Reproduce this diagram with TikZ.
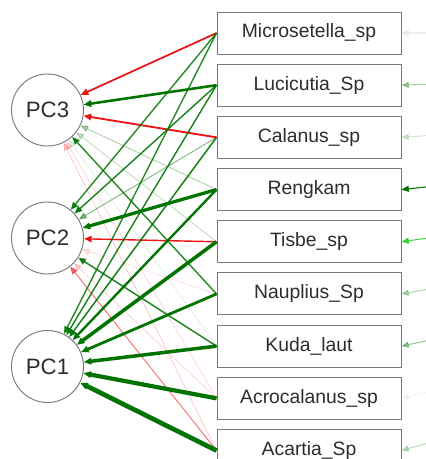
\documentclass[tikz,border=0pt]{standalone}
\usepackage{fontspec}
\setmainfont{Liberation Sans}
\usepackage{tikz}
\usetikzlibrary{positioning,arrows.meta}
\definecolor{pcaGreen}{RGB}{0,115,0}
\definecolor{pcaRed}{RGB}{235,20,20}
\definecolor{pcaGray}{RGB}{120,120,120}
\definecolor{pcaText}{RGB}{45,45,45}

\begin{document}
\begin{tikzpicture}[x=0.03cm,y=-0.03cm,
      node distance=2.775mm,
      sp/.style={draw=pcaGray,line width=0.8pt,fill=white,minimum width=5.52cm,minimum height=1.26cm,text=pcaText,font=\fontsize{16.5}{19}\selectfont},
      pc/.style={draw=pcaGray,line width=0.8pt,circle,minimum size=2.16cm,inner sep=0pt,text=pcaText,font=\fontsize{19}{22}\selectfont},
      posload/.style={-{Triangle[length=2.3mm,width=1.9mm]},draw=pcaGreen,line width=1.2pt},
      negload/.style={-{Triangle[length=2.3mm,width=1.9mm]},draw=pcaRed,line width=1.2pt},
      res/.style={-{Triangle[length=2.2mm,width=1.8mm]},draw=pcaGreen,line width=0.9pt}]
    \useasboundingbox (0,0) rectangle (425,459);
    \node[pc] (pc3) at (47.5,110) {PC3};
    \node[pc] (pc2) at (47.5,238) {PC2};
    \node[pc] (pc1) at (47.5,366.5) {PC1};
    \node[sp] (mic) at (309,33) {Microsetella\_sp};
    \node[sp,below=of mic] (luc) {Lucicutia\_Sp};
    \node[sp,below=of luc] (cal) {Calanus\_sp};
    \node[sp,below=of cal] (ren) {Rengkam};
    \node[sp,below=of ren] (tis) {Tisbe\_sp};
    \node[sp,below=of tis] (nau) {Nauplius\_Sp};
    \node[sp,below=of nau] (kud) {Kuda\_laut};
    \node[sp,below=of kud] (acr) {Acrocalanus\_sp};
    \node[sp,below=of acr] (aca) {Acartia\_Sp};
    % faint loadings first
    \draw[posload,opacity=0.35,line width=0.7pt] (ren.west) -- (pc3);
    \draw[posload,opacity=0.25,line width=0.7pt] (tis.west) -- (pc3);
    \draw[posload,opacity=0.12,line width=0.6pt] (kud.west) -- (pc3);
    \draw[negload,opacity=0.18,line width=0.6pt] (acr.west) -- (pc3);
    \draw[negload,opacity=0.25,line width=0.6pt] (aca.west) -- (pc3);
    \draw[posload,opacity=0.5,line width=0.8pt] (cal.west) -- (pc2);
    \draw[negload,opacity=0.15,line width=0.6pt] (nau.west) -- (pc2);
    \draw[negload,opacity=0.2,line width=0.6pt] (acr.west) -- (pc2);
    \draw[negload,opacity=0.6,line width=0.8pt] (aca.west) -- (pc2);
    % PC3
    \draw[negload,line width=1.5pt] (mic.west) -- (pc3);
    \draw[posload,line width=2.2pt] (luc.west) -- (pc3);
    \draw[negload,line width=1.6pt] (cal.west) -- (pc3);
    \draw[posload,opacity=0.85,line width=1.2pt] (nau.west) -- (pc3);
    % PC2
    \draw[posload,opacity=0.85] (mic.west) -- (pc2);
    \draw[posload,opacity=0.9] (luc.west) -- (pc2);
    \draw[posload,line width=2.8pt] (ren.west) -- (pc2);
    \draw[negload,line width=1.2pt] (tis.west) -- (pc2);
    \draw[posload,opacity=0.85,line width=1.3pt] (kud.west) -- (pc2);
    % PC1
    \draw[posload,opacity=0.85] (mic.west) -- (pc1);
    \draw[posload,opacity=0.9] (luc.west) -- (pc1);
    \draw[posload,opacity=0.9,line width=1.3pt] (cal.west) -- (pc1);
    \draw[posload,line width=2pt] (ren.west) -- (pc1);
    \draw[posload,line width=3pt] (tis.west) -- (pc1);
    \draw[posload,line width=2.4pt] (nau.west) -- (pc1);
    \draw[posload,line width=3pt] (kud.west) -- (pc1);
    \draw[posload,line width=3.6pt] (acr.west) -- (pc1);
    \draw[posload,line width=4pt] (aca.west) -- (pc1);
    % residuals
    \coordinate (micR) at (428,33);
    \coordinate (lucR) at (428,84.25);
    \coordinate (calR) at (428,135.5);
    \coordinate (renR) at (428,186.75);
    \coordinate (tisR) at (428,238);
    \coordinate (nauR) at (428,289.25);
    \coordinate (kudR) at (428,340.5);
    \coordinate (acrR) at (428,391.75);
    \coordinate (acaR) at (428,443);
    \draw[res,draw=pcaGray,opacity=0.12] (micR) -- (mic.east);
    \draw[res,opacity=0.35] (lucR) -- (luc.east);
    \draw[res,opacity=0.18] (calR) -- (cal.east);
    \draw[res,opacity=1] (renR) -- (ren.east);
    \draw[res,opacity=0.7,draw=green!60!pcaGreen] (tisR) -- (tis.east);
    \draw[res,opacity=0.3] (nauR) -- (nau.east);
    \draw[res,opacity=0.4] (kudR) -- (kud.east);
    \draw[res,draw=pcaGray,opacity=0.08] (acrR) -- (acr.east);
    \draw[res,opacity=0.25] (acaR) -- (aca.east);
  \end{tikzpicture}
\end{document}
